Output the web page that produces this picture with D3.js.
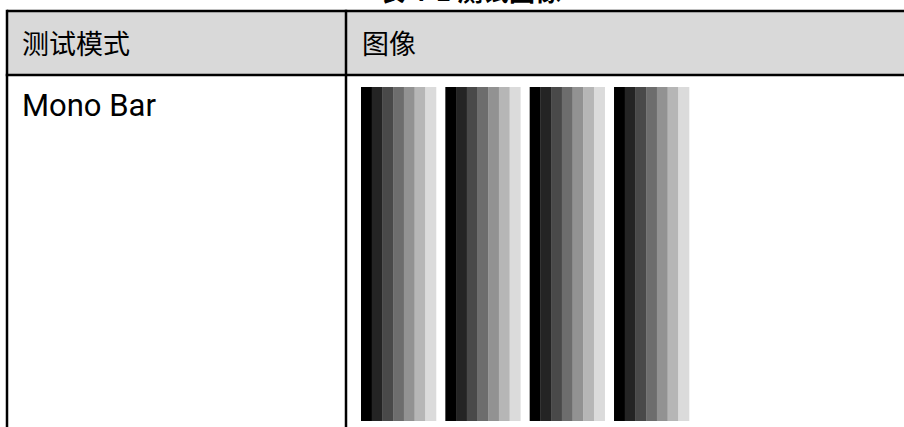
<!DOCTYPE html>
<html><head><meta charset="utf-8">
<script src="https://cdn.jsdelivr.net/npm/d3@7"></script>
<style>html,body{margin:0;padding:0;background:#fff;overflow:hidden}</style>
</head><body>
<svg id="c" width="904" height="427" style="display:block"></svg>
<script>
const title = "表 4-1 测试图像";
const headers = ["测试模式", "图像"];
const rowLabels = ["Mono Bar"];
const groups = ["G1", "G2", "G3", "G4"];
const grayLevels = [0, 36, 73, 109, 146, 182, 219];

const svg = d3.select("#c");
const W = 904, H = 427;
const tLeft = 7, tTop = 11, tMid = 346, headBottom = 75;

svg.append("text").attr("x", 470).attr("y", 1).attr("text-anchor", "middle")
  .attr("font-family", "Noto Sans CJK SC").attr("font-size", 26).attr("font-weight", "bold")
  .attr("fill", "#000").text(title);

svg.append("rect").attr("x", tLeft).attr("y", tTop).attr("width", W + 10 - tLeft).attr("height", headBottom - tTop)
  .attr("fill", "#d9d9d9");

const colX = [22, 362];
svg.selectAll("text.h").data(headers).join("text").attr("class", "h")
  .attr("x", (d, i) => colX[i]).attr("y", 54)
  .attr("font-family", "Noto Sans CJK SC").attr("font-size", 27).attr("fill", "#000").text(d => d);

svg.selectAll("text.r").data(rowLabels).join("text").attr("class", "r")
  .attr("x", 22).attr("y", 116)
  .attr("font-family", "Roboto").attr("font-size", 31).attr("fill", "#000").text(d => d);

const gx = d3.scaleBand().domain(groups).range([361, 689]).paddingInner(0.111).paddingOuter(0);
const bx = d3.scaleBand().domain(d3.range(grayLevels.length)).range([0, gx.bandwidth()]);
const y0 = 87, y1 = 421;
const g = svg.selectAll("g.grp").data(groups).join("g").attr("class", "grp")
  .attr("transform", d => `translate(${gx(d)},0)`);
g.selectAll("rect").data(grayLevels).join("rect")
  .attr("x", (d, i) => bx(i)).attr("y", y0).attr("width", bx.bandwidth() + 0.3).attr("height", y1 - y0)
  .attr("fill", d => d3.rgb(d, d, d));

const line = (x1, ya, x2, yb) => svg.append("line").attr("x1", x1).attr("y1", ya).attr("x2", x2).attr("y2", yb)
  .attr("stroke", "#000").attr("stroke-width", 2.5);
line(tLeft, tTop, W + 5, tTop);
line(tLeft - 1.25, headBottom, W + 5, headBottom);
line(tLeft, tTop - 1.25, tLeft, H + 5);
line(tMid, tTop - 1.25, tMid, H + 5);
</script>
</body></html>
